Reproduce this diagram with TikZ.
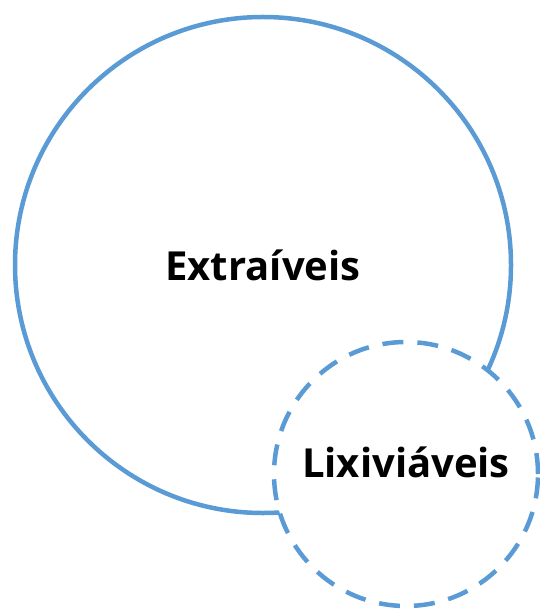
\documentclass[tikz,border=0pt]{standalone}
\usepackage{fontspec}
\setmainfont{Open Sans}
\usetikzlibrary{positioning,shapes}
\definecolor{setblue}{RGB}{91,155,213}
\tikzset{
    %Define style for the outer set
    bigset/.style={
           circle,
           draw=setblue, line width=4.5pt,
           minimum size=496pt,
           inner sep=0pt},
    %Define style for the inner (dashed) set
    smallset/.style={
           circle,
           draw=setblue, line width=4.5pt,
           dash pattern=on 21pt off 14pt,
           fill=white,
           minimum size=264pt,
           inner sep=0pt},
    %Define style for the set names
    setname/.style={
           inner sep=0pt,
           font=\fontsize{40}{48}\selectfont\bfseries}
}
\begin{document}
\begin{tikzpicture}[x=1pt,y=1pt]
  \useasboundingbox (0,0) rectangle (539,-612);
  \node[bigset] (extr) at (263,-265) {};
  \node[setname] (extr-name) at (extr.center) {Extra\'iveis};
  \node[smallset] (lix) at (406,-474) {};
  \node[setname] (lix-name) at ([yshift=12pt]lix.center) {Lixivi\'aveis};
\end{tikzpicture}
\end{document}
